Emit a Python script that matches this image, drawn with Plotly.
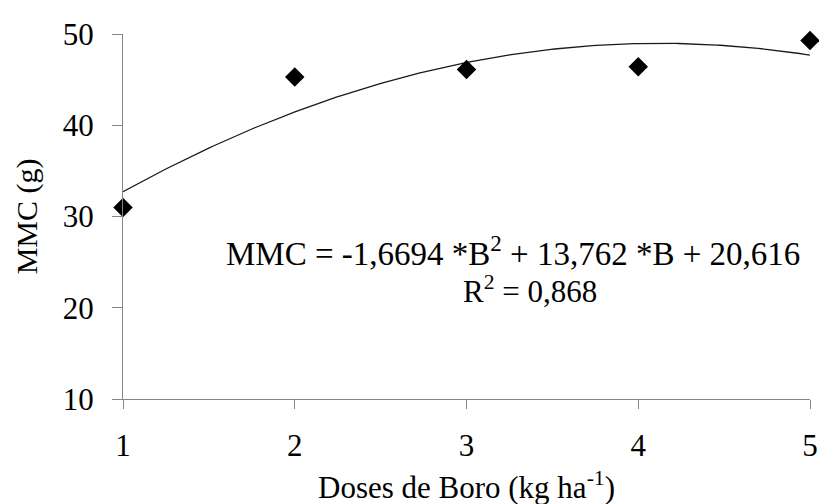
import numpy as np
import plotly.graph_objects as go

# Observed data
doses = [1, 2, 3, 4, 5]
mmc = [31.0, 45.3, 46.1, 46.4, 49.3]

# Regression coefficients shown on the chart (a*B^2 + b*B + c)
coef = [-1.6694, 13.762, 20.616]

y_ticks = [10, 20, 30, 40, 50]
x_ticks = [1, 2, 3, 4, 5]

xs = np.linspace(min(doses), max(doses), 200)
ys = coef[0] * xs**2 + coef[1] * xs + coef[2]

FONT = "Liberation Serif, Times New Roman, serif"
AXC = "#868686"

fig = go.Figure()
fig.add_trace(go.Scatter(x=xs, y=ys, mode="lines",
                         line=dict(color="#1a1a1a", width=1.3),
                         hoverinfo="skip", showlegend=False, cliponaxis=False))
fig.add_trace(go.Scatter(x=doses, y=mmc, mode="markers",
                         marker=dict(symbol="diamond", size=15, color="black"),
                         showlegend=False, cliponaxis=False))

fig.update_layout(
    width=819, height=496,
    margin=dict(l=115, r=9, t=19, b=105),
    paper_bgcolor="white", plot_bgcolor="white",
    font=dict(family=FONT, color="black"),
    xaxis=dict(range=[1, 5], tickvals=x_ticks, showgrid=False, zeroline=False,
               showline=True, linecolor=AXC, linewidth=1,
               ticks="outside", ticklen=9, tickcolor=AXC, tickwidth=1,
               tickfont=dict(size=31, family=FONT), ticklabelstandoff=10),
    yaxis=dict(range=[10, 50], tickvals=y_ticks, showgrid=False, zeroline=False,
               showline=True, linecolor=AXC, linewidth=1,
               ticks="outside", ticklen=10, tickcolor=AXC, tickwidth=1,
               tickfont=dict(size=31, family=FONT), ticklabelstandoff=12),
    annotations=[
        dict(text="Doses de Boro (kg ha<sup>-1</sup>)", xref="paper", yref="paper",
             x=0.5, y=-0.238, xanchor="center", yanchor="middle",
             showarrow=False, font=dict(size=31, family=FONT)),
        dict(text="MMC (g)", xref="paper", yref="paper",
             x=-0.140, y=0.5, xanchor="center", yanchor="middle", textangle=-90,
             showarrow=False, font=dict(size=30, family=FONT)),
        dict(text="MMC = -1,6694 *B<sup>2</sup> + 13,762 *B + 20,616",
             x=3.27, y=26.2, xref="x", yref="y", xanchor="center", yanchor="middle",
             showarrow=False, font=dict(size=33, family=FONT)),
        dict(text="R<sup>2</sup> = 0,868",
             x=3.37, y=22.0, xref="x", yref="y", xanchor="center", yanchor="middle",
             showarrow=False, font=dict(size=31, family=FONT)),
    ],
)

fig.write_html("out.html")
